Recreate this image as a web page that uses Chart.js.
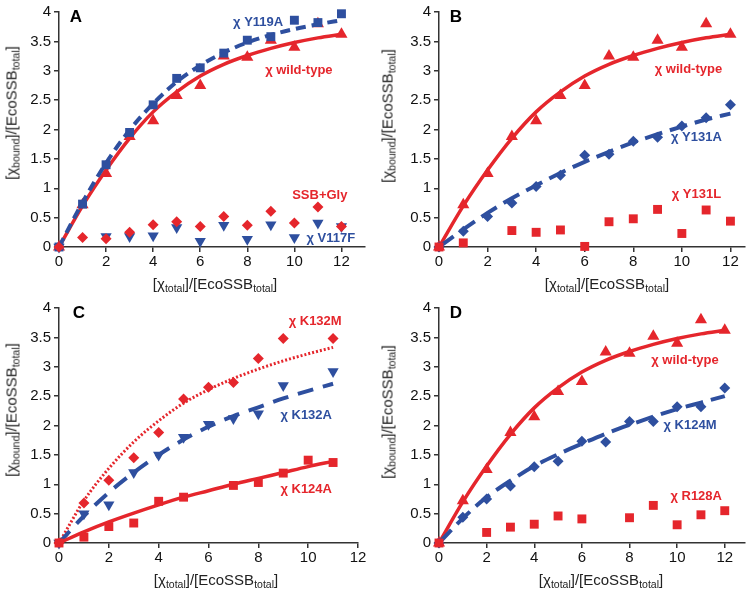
<!DOCTYPE html>
<html>
<head>
<meta charset="utf-8">
<script src="https://cdn.jsdelivr.net/npm/chart.js@4"></script>
<style>
  body { margin: 0; background: #fff; }
  #wrap { position: relative; width: 752px; height: 592px; font-family: "Liberation Sans", Arial, sans-serif; }
  .panel { position: absolute; width: 376px; height: 296px; }
  .panel canvas { position: absolute; left: 0; top: 0; }
  .letter { position: absolute; font-weight: bold; font-size: 17px; color: #000; transform: translate(-50%, -50%); }
  .xt, .yt { position: absolute; font-size: 15px; color: #222; white-space: nowrap; }
  .xt { transform: translate(-50%, -50%); }
  .yt { transform: translate(-50%, -50%) rotate(-90deg); }
  sub { font-size: 10.5px; vertical-align: -3px; line-height: 0; }
</style>
</head>
<body>
<div id="wrap"></div>
<script>
// =========================
// DATA
// =========================
const xs = [0, 1, 2, 3, 4, 5, 6, 7, 8, 9, 10, 11, 12];
const xsC = [0, 1, 2, 3, 4, 5, 6, 7, 8, 9, 10, 11];

const xTicks = [0, 2, 4, 6, 8, 10, 12];
const yTicks = [0, 0.5, 1, 1.5, 2, 2.5, 3, 3.5, 4];

// wild-type (panels A, B, D)
const wtPts = [0, 0.72, 1.25, 1.88, 2.15, 2.58, 2.75, 3.25, 3.23, 3.52, 3.4, 3.8, 3.62];
const wtFit = [0, 0.7, 1.31, 1.85, 2.3, 2.64, 2.91, 3.11, 3.26, 3.38, 3.48, 3.56, 3.62];

// panel A
const y119aPts = [0, 0.73, 1.4, 1.95, 2.42, 2.87, 3.05, 3.3, 3.52, 3.58, 3.86, 3.82, 3.97];
const y119aFit = [0, 0.76, 1.43, 1.99, 2.44, 2.81, 3.09, 3.31, 3.48, 3.61, 3.71, 3.79, 3.86];
const ssbGlyPts = [0, 0.16, 0.14, 0.25, 0.38, 0.43, 0.35, 0.52, 0.37, 0.61, 0.41, 0.68, 0.35];
const v117fPts = [0, null, 0.18, 0.18, 0.19, 0.33, 0.1, 0.37, 0.13, 0.38, 0.16, 0.41, 0.35];

// panel B
const y131aPts = [0, 0.27, 0.52, 0.75, 1.03, 1.22, 1.56, 1.58, 1.8, 1.87, 2.06, 2.2, 2.42];
const y131aFit = [0, 0.3, 0.58, 0.83, 1.05, 1.26, 1.45, 1.62, 1.78, 1.92, 2.05, 2.17, 2.27];
const y131lPts = [0, 0.07, null, 0.28, 0.25, 0.29, 0.01, 0.43, 0.48, 0.64, 0.23, 0.63, 0.44];

// panel C
const k132mPts = [0, 0.68, 1.07, 1.45, 1.88, 2.45, 2.65, 2.73, 3.14, 3.48, null, 3.48];
const k132mFit = [0, 0.72, 1.27, 1.72, 2.08, 2.38, 2.61, 2.8, 2.96, 3.1, 3.22, 3.33];
const k132aPts = [0, 0.5, 0.65, 1.2, 1.5, 1.8, 2.02, 2.12, 2.2, 2.68, null, 2.92];
const k132aFit = [0, 0.46, 0.86, 1.2, 1.5, 1.76, 1.98, 2.16, 2.31, 2.46, 2.59, 2.71];
const k124aPts = [0, 0.1, 0.28, 0.34, 0.71, 0.78, null, 0.98, 1.03, 1.19, 1.41, 1.37];
const k124aFit = [0, 0.19, 0.36, 0.51, 0.65, 0.78, 0.89, 1.0, 1.1, 1.2, 1.3, 1.39];

// panel D
const k124mPts = [0, 0.44, 0.75, 0.97, 1.3, 1.39, 1.73, 1.72, 2.07, 2.07, 2.32, 2.32, 2.64];
const k124mFit = [0, 0.42, 0.78, 1.06, 1.31, 1.51, 1.69, 1.86, 2.01, 2.15, 2.28, 2.39, 2.5];
const r128aPts = [0, null, 0.18, 0.27, 0.32, 0.46, 0.41, null, 0.43, 0.64, 0.31, 0.48, 0.55];

// =========================
// STYLE
// =========================
const RED = "#e5262c";
const BLUE = "#2e4f9f";
const AXIS = "#333";

function pts(x, y) {
  return x.map((v, i) => ({ x: v, y: y[i] })).filter((p) => p.y !== null && p.y !== undefined);
}

function markers(x, y, color, style, radius, rotation) {
  return {
    type: "scatter", data: pts(x, y), showLine: false, clip: false,
    pointStyle: style, pointRadius: radius, pointRotation: rotation || 0,
    backgroundColor: color, borderColor: color, borderWidth: 0
  };
}

function fit(x, y, color, width, dash) {
  return {
    type: "line", data: pts(x, y), clip: false, pointRadius: 0,
    borderColor: color, borderWidth: width, borderDash: dash || [],
    tension: 0.4, cubicInterpolationMode: "monotone", fill: false
  };
}

// text labels drawn at data coordinates
const seriesLabels = {
  id: "seriesLabels",
  afterDatasetsDraw(chart, args, opts) {
    const { ctx, scales } = chart;
    ctx.save();
    ctx.font = "bold 13px 'Liberation Sans', Arial, sans-serif";
    ctx.textAlign = "center";
    ctx.textBaseline = "middle";
    (opts.items || []).forEach((l) => {
      ctx.fillStyle = l.color;
      ctx.fillText(l.text, scales.x.getPixelForValue(l.x), scales.y.getPixelForValue(l.y));
    });
    ctx.restore();
  }
};

// =========================
// PANEL BUILDER
// =========================
function makePanel(p) {
  const wrap = document.getElementById("wrap");
  const div = document.createElement("div");
  div.className = "panel";
  div.style.left = p.left + "px";
  div.style.top = p.top + "px";
  div.innerHTML = `
    <canvas width="376" height="296"></canvas>
    <div class="letter" style="left:${p.letterX}px;top:17px">${p.letter}</div>
    <div class="xt" style="left:${p.xtX}px;top:283px">[χ<sub>total</sub>]/[EcoSSB<sub>total</sub>]</div>
    <div class="yt" style="left:11px;top:${p.ytY}px">[χ<sub>bound</sub>]/[EcoSSB<sub>total</sub>]</div>`;
  wrap.appendChild(div);

  const tickFont = { family: "'Liberation Sans', Arial, sans-serif", size: 15 };

  new Chart(div.querySelector("canvas"), {
    data: { datasets: p.datasets },
    options: {
      responsive: false,
      animation: false,
      layout: { padding: { top: 8, right: p.padRight, left: 0, bottom: 0 } },
      plugins: { legend: { display: false }, tooltip: { enabled: false }, seriesLabels: { items: p.labels } },
      scales: {
        x: {
          type: "linear", min: 0, max: p.xMax,
          afterBuildTicks: (s) => { s.ticks = xTicks.map((v) => ({ value: v })); },
          afterFit: (s) => { s.height = 49; },
          ticks: { font: tickFont, color: "#111", padding: 1, maxRotation: 0, autoSkip: false },
          grid: { drawOnChartArea: false, drawTicks: true, tickLength: 5, color: AXIS, lineWidth: 1.5 },
          border: { color: AXIS, width: 1.5 }
        },
        y: {
          type: "linear", min: 0, max: 4,
          afterBuildTicks: (s) => { s.ticks = yTicks.map((v) => ({ value: v })); },
          afterFit: (s) => { s.width = p.yWidth; },
          ticks: { font: tickFont, color: "#111", padding: 3, autoSkip: false, callback: (v) => String(v) },
          grid: { drawOnChartArea: false, drawTicks: true, tickLength: 5, color: AXIS, lineWidth: 1.5 },
          border: { color: AXIS, width: 1.5 }
        }
      }
    },
    plugins: [seriesLabels]
  });
}

// A
makePanel({
  left: 0, top: 0, letter: "A", letterX: 76, xtX: 215, ytY: 113,
  xMax: 13, yWidth: 59, padRight: 11,
  datasets: [
    markers(xs, ssbGlyPts, RED, "rectRot", 5.5),
    markers(xs, v117fPts, BLUE, "triangle", 6.5, 180),
    markers(xs, y119aPts, BLUE, "rect", 6.3),
    fit(xs, y119aFit, BLUE, 4, [10, 6]),
    markers(xs, wtPts, RED, "triangle", 7),
    fit(xs, wtFit, RED, 3.5)
  ],
  labels: [
    { text: "χ Y119A", x: 8.46, y: 3.82, color: BLUE },
    { text: "χ wild-type", x: 10.19, y: 3.01, color: RED },
    { text: "SSB+Gly", x: 11.08, y: 0.87, color: RED },
    { text: "χ V117F", x: 11.55, y: 0.15, color: BLUE }
  ]
});

// B
makePanel({
  left: 376, top: 0, letter: "B", letterX: 80, xtX: 231, ytY: 116,
  xMax: 12.6, yWidth: 63, padRight: 7,
  datasets: [
    markers(xs, y131lPts, RED, "rect", 6.3),
    markers(xs, y131aPts, BLUE, "rectRot", 5.5),
    fit(xs, y131aFit, BLUE, 4, [18, 8]),
    markers(xs, wtPts, RED, "triangle", 7),
    fit(xs, wtFit, RED, 3.5)
  ],
  labels: [
    { text: "χ wild-type", x: 10.27, y: 3.03, color: RED },
    { text: "χ Y131A", x: 10.6, y: 1.87, color: BLUE },
    { text: "χ Y131L", x: 10.6, y: 0.9, color: RED }
  ]
});

// C
makePanel({
  left: 0, top: 296, letter: "C", letterX: 79, xtX: 216, ytY: 114,
  xMax: 12, yWidth: 59, padRight: 18,
  datasets: [
    markers(xsC, k124aPts, RED, "rect", 6.3),
    fit(xsC, k124aFit, RED, 3.5),
    markers(xsC, k132aPts, BLUE, "triangle", 6.5, 180),
    fit(xsC, k132aFit, BLUE, 4, [16, 10]),
    markers(xsC, k132mPts, RED, "rectRot", 5.5),
    fit(xsC, k132mFit, RED, 3, [2, 2])
  ],
  labels: [
    { text: "χ K132M", x: 10.28, y: 3.77, color: RED },
    { text: "χ K132A", x: 9.92, y: 2.18, color: BLUE },
    { text: "χ K124A", x: 9.92, y: 0.92, color: RED }
  ]
});

// D
makePanel({
  left: 376, top: 296, letter: "D", letterX: 80, xtX: 225, ytY: 116,
  xMax: 12.85, yWidth: 63, padRight: 6,
  datasets: [
    markers(xs, r128aPts, RED, "rect", 6.3),
    markers(xs, k124mPts, BLUE, "rectRot", 5.5),
    fit(xs, k124mFit, BLUE, 4, [18, 8]),
    markers(xs, wtPts, RED, "triangle", 7),
    fit(xs, wtFit, RED, 3.5)
  ],
  labels: [
    { text: "χ wild-type", x: 10.33, y: 3.1, color: RED },
    { text: "χ K124M", x: 10.54, y: 2.0, color: BLUE },
    { text: "χ R128A", x: 10.8, y: 0.79, color: RED }
  ]
});
</script>
</body>
</html>
